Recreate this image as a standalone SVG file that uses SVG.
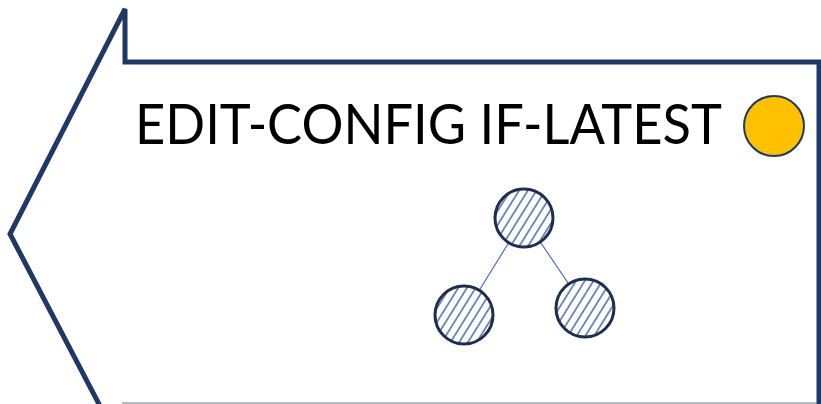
<svg xmlns="http://www.w3.org/2000/svg" width="821" height="404" viewBox="0 0 821 404">
  <style>
    .outline { fill: none; stroke: #1f3864; stroke-width: 5; stroke-linejoin: miter; }
    .node { stroke: #1f2d4f; stroke-width: 3; fill: url(#hatch); }
    .edge { stroke: #4472c4; stroke-width: 1.2; fill: none; }
    .title { font-family: Lato, "Liberation Sans", sans-serif; font-size: 57px; fill: #000; }
  </style>
  <defs>
    <pattern id="hatch" width="7.4" height="7.4" patternUnits="userSpaceOnUse" patternTransform="rotate(32)">
      <rect width="7.4" height="7.4" fill="#fff"/>
      <line x1="1" y1="0" x2="1" y2="7.4" stroke="#2f5597" stroke-width="1.3"/>
    </pattern>
  </defs>
  <rect width="821" height="404" fill="#fff"/>
  <g id="banner">
    <line x1="122" y1="403" x2="821" y2="403" stroke="#a0a4ab" stroke-width="1.5"/>
    <path class="outline" d="M 100,406 L 10,234 L 125,9 L 125,62 L 819,62 L 819,404"/>
    <text class="title" x="135" y="144" textLength="587" lengthAdjust="spacingAndGlyphs">EDIT-CONFIG IF-LATEST</text>
  </g>
  <g id="status">
    <circle cx="774" cy="126" r="30" fill="#ffc000" stroke="#1f3864" stroke-width="2"/>
  </g>
  <g id="connectors">
    <line class="edge" x1="524" y1="218" x2="464" y2="315"/>
    <line class="edge" x1="524" y1="218" x2="585" y2="308"/>
  </g>
  <g id="node-root">
    <circle class="node" cx="524" cy="218" r="29"/>
  </g>
  <g id="node-left">
    <circle class="node" cx="464" cy="315" r="29"/>
  </g>
  <g id="node-right">
    <circle class="node" cx="585" cy="308" r="29"/>
  </g>
</svg>
